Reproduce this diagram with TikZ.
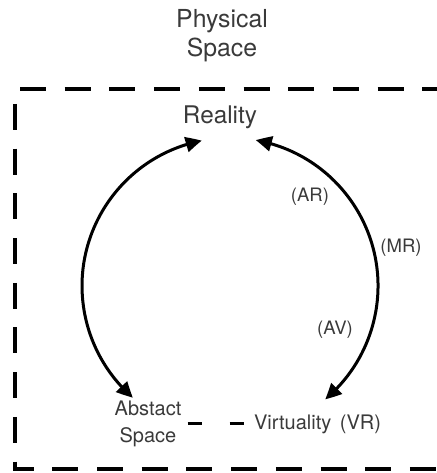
\documentclass[tikz,border=0pt]{standalone}
\usepackage{fontspec}
\setmainfont{TeX Gyre Heros}
\usetikzlibrary{arrows.meta,bending}
\definecolor{txt}{HTML}{3A3A3A}
\begin{document}
\begin{tikzpicture}[x=1pt,y=1pt,
  lbl/.style={text=txt, inner sep=1pt, align=center},
  big/.style={font=\fontsize{24.8}{29}\selectfont},
  rbig/.style={font=\fontsize{24.3}{29}\selectfont},
  small/.style={font=\fontsize{18.5}{22}\selectfont},
  mid/.style={font=\fontsize{20}{27}\selectfont},
  border/.style={line width=3.5pt, dash pattern=on 26pt off 18.7pt},
  cyc/.style={line width=3pt, {Triangle[length=16pt,width=15pt,bend]}-{Triangle[length=16pt,width=15pt,bend]}},
  link/.style={line width=2.6pt, dash pattern=on 14pt off 28pt}
]
\useasboundingbox (0,0) rectangle (436,473);
% frame
\draw[border, dash phase=39.7pt] (15,384) -- (440,384);
\draw[border, dash phase=29.7pt] (15,384) -- (15,4) -- (440,4);
% texts
\node[lbl,big] (physical) at (222,437) {Physical\\Space};
\node[lbl,rbig] (reality) at (220,356) {Reality};
\node[lbl,small] (ar) at (310,276) {(AR)};
\node[lbl,small] (mr) at (401,225) {(MR)};
\node[lbl,small] (av) at (335,143) {(AV)};
\node[lbl,mid] (abstract) at (148,49.5) {Abstact\\Space};
\node[lbl,mid] (virtuality) at (317.5,49) {Virtuality\hspace{3pt} (VR)};
% arc end points
\coordinate (rleft) at (201.8,332.3);
\coordinate (rright) at (255.7,332.8);
% arcs
\draw[cyc] (rleft) arc[start angle=101, end angle=229, radius=148];
\draw[cyc] (rright) arc[start angle=80, end angle=-50, radius=148];
% dashed link
\draw[link, shorten <=5pt, shorten >=6pt] (abstract.east) -- (abstract.east -| virtuality.west);
\end{tikzpicture}
\end{document}
